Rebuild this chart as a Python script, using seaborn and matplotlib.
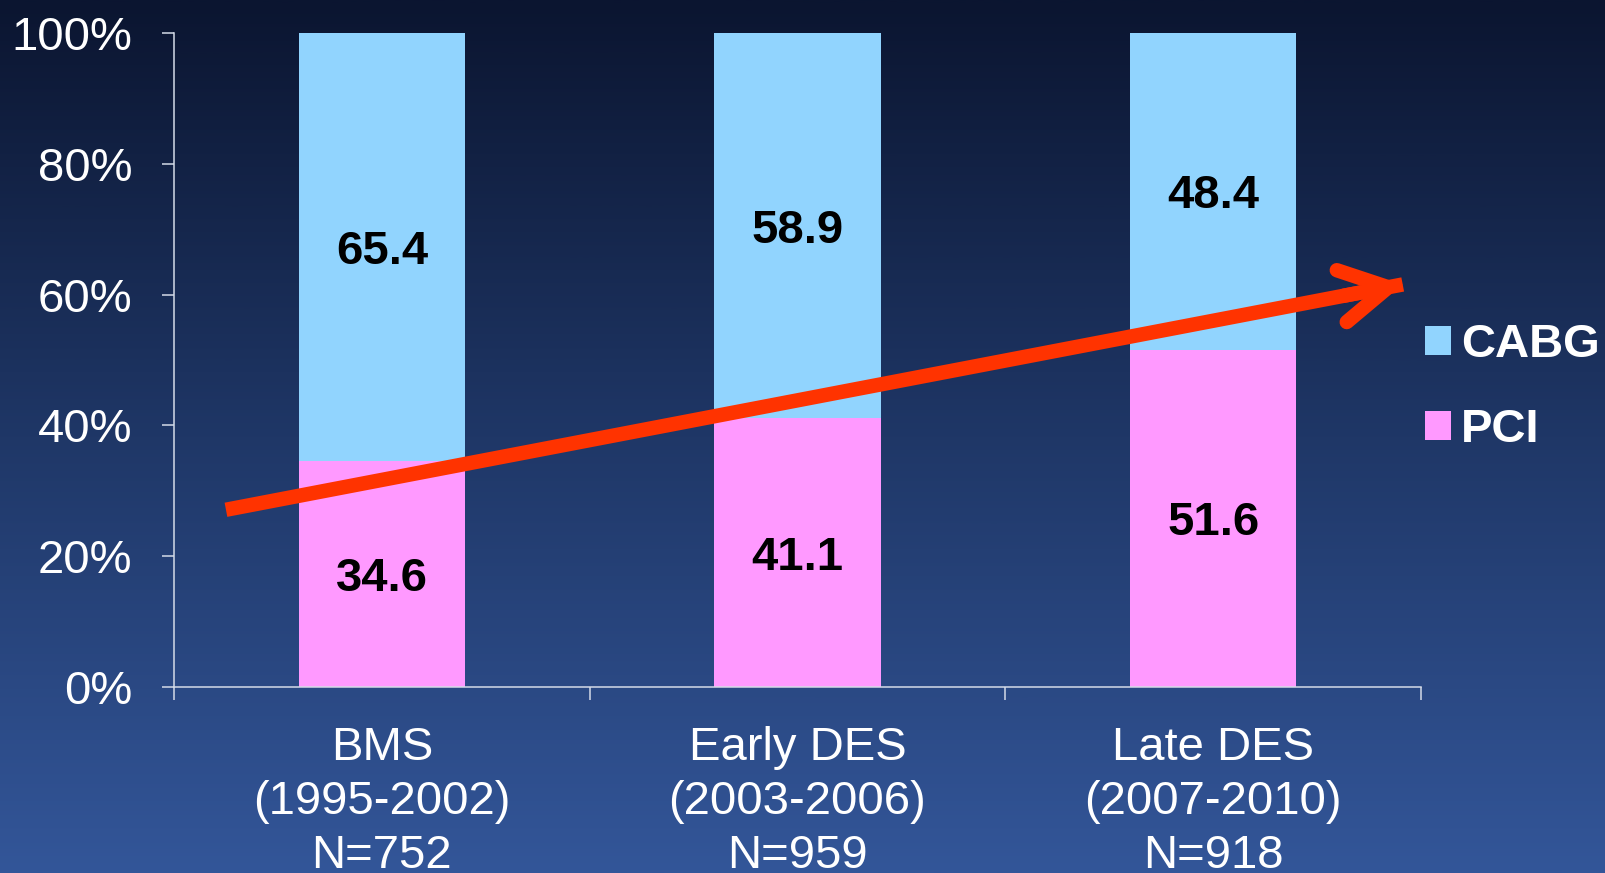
import numpy as np
import pandas as pd
import matplotlib
matplotlib.use("Agg")
import matplotlib.pyplot as plt
from matplotlib.patches import Patch, FancyArrowPatch
from matplotlib.colors import LinearSegmentedColormap
import seaborn as sns

# ---- data -------------------------------------------------------------
categories = ["BMS\n(1995-2002)\nN=752",
              "Early DES\n(2003-2006)\nN=959",
              "Late DES\n(2007-2010)\nN=918"]
pci = [34.6, 41.1, 51.6]
cabg = [65.4, 58.9, 48.4]
y_ticks = [0, 20, 40, 60, 80, 100]
y_tick_labels = ["0%", "20%", "40%", "60%", "80%", "100%"]
series_names = ["CABG", "PCI"]

# trend arrow (data coordinates: category index, percent)
TREND_START = (-0.375, 27.1)
TREND_END = (2.456, 61.55)

# ---- style ------------------------------------------------------------
CABG_COLOR = "#91d4fe"
PCI_COLOR = "#ff99ff"
ARROW_COLOR = "#ff3300"
AXIS_COLOR = "#d4dbe8"
FS = 34

sns.set_style("white")
plt.rcParams["font.family"] = ["Liberation Sans", "DejaVu Sans"]

fig = plt.figure(figsize=(16.06, 8.73), dpi=100)

# vertical navy gradient background
bg = fig.add_axes([0, 0, 1, 1], zorder=-10)
grad = np.linspace(0, 1, 512).reshape(-1, 1)
cmap = LinearSegmentedColormap.from_list("bg", ["#0b1530", "#1f3767", "#335699"])
bg.imshow(grad, aspect="auto", cmap=cmap, extent=[0, 1, 0, 1], origin="upper")
bg.set_axis_off()

W, H = 1606, 873
left, right, top, bottom = 174, 1421, 33, 687
ax = fig.add_axes([left / W, 1 - bottom / H, (right - left) / W, (bottom - top) / H])
ax.set_facecolor("none")

df = pd.DataFrame({"cat": categories, "pci": pci, "cabg": cabg})
df["total"] = df["pci"] + df["cabg"]

sns.barplot(data=df, x="cat", y="total", color=CABG_COLOR, saturation=1,
            width=0.4, ax=ax, linewidth=0)
sns.barplot(data=df, x="cat", y="pci", color=PCI_COLOR, saturation=1,
            width=0.4, ax=ax, linewidth=0)

# segment value labels
for i, (p, c) in enumerate(zip(pci, cabg)):
    ax.text(i, p / 2, f"{p:.1f}", ha="center", va="center_baseline",
            fontsize=FS, fontweight="bold", color="black")
    ax.text(i, p + c / 2, f"{c:.1f}", ha="center", va="center_baseline",
            fontsize=FS, fontweight="bold", color="black")

# axes
ax.set_xlim(-0.5, 2.5)
ax.set_ylim(0, 100)
ax.set_xlabel("")
ax.set_ylabel("")
for s in ["top", "right"]:
    ax.spines[s].set_visible(False)
for s in ["left", "bottom"]:
    ax.spines[s].set_color(AXIS_COLOR)
    ax.spines[s].set_linewidth(1.1)

ax.set_yticks(y_ticks)
ax.set_yticklabels(y_tick_labels)
ax.tick_params(axis="y", direction="out", length=8.6, width=1.1,
               color=AXIS_COLOR, labelcolor="white", labelsize=FS, pad=21.5, left=True)

ax.set_xticks([-0.5, 0.5, 1.5, 2.5])
ax.set_xticklabels([])
ax.set_xticks([0, 1, 2], minor=True)
ax.set_xticklabels(categories, minor=True, linespacing=1.3)
ax.tick_params(axis="x", which="major", direction="out", length=9.4, width=1.1,
               color=AXIS_COLOR, bottom=True)
ax.tick_params(axis="x", which="minor", length=0, labelcolor="white",
               labelsize=FS, pad=28)

# trend arrow: shaft plus open head
ax.plot([TREND_START[0], TREND_END[0]], [TREND_START[1], TREND_END[1]],
        color=ARROW_COLOR, lw=10.4, solid_capstyle="butt", clip_on=False, zorder=5)
dx = TREND_END[0] - TREND_START[0]
dy = TREND_END[1] - TREND_START[1]
head = FancyArrowPatch((TREND_END[0] - 0.05 * dx, TREND_END[1] - 0.05 * dy), TREND_END,
                       arrowstyle="->,head_length=34,head_width=19",
                       mutation_scale=1, color=ARROW_COLOR, lw=10.4,
                       capstyle="round", joinstyle="miter",
                       shrinkA=0, shrinkB=0, clip_on=False, zorder=6)
ax.add_patch(head)

# legend
handles = [Patch(facecolor=CABG_COLOR, edgecolor="none"),
           Patch(facecolor=PCI_COLOR, edgecolor="none")]
ax.legend(handles, series_names, loc="upper left",
          bbox_to_anchor=(1425 / W, 1 - 323 / H), bbox_transform=fig.transFigure,
          frameon=False, prop={"size": FS, "weight": "bold"}, labelcolor="white",
          handlelength=0.55, handleheight=0.55, handletextpad=0.22,
          labelspacing=0.87, borderpad=0, borderaxespad=0)

fig.savefig("out.png", dpi=100)
